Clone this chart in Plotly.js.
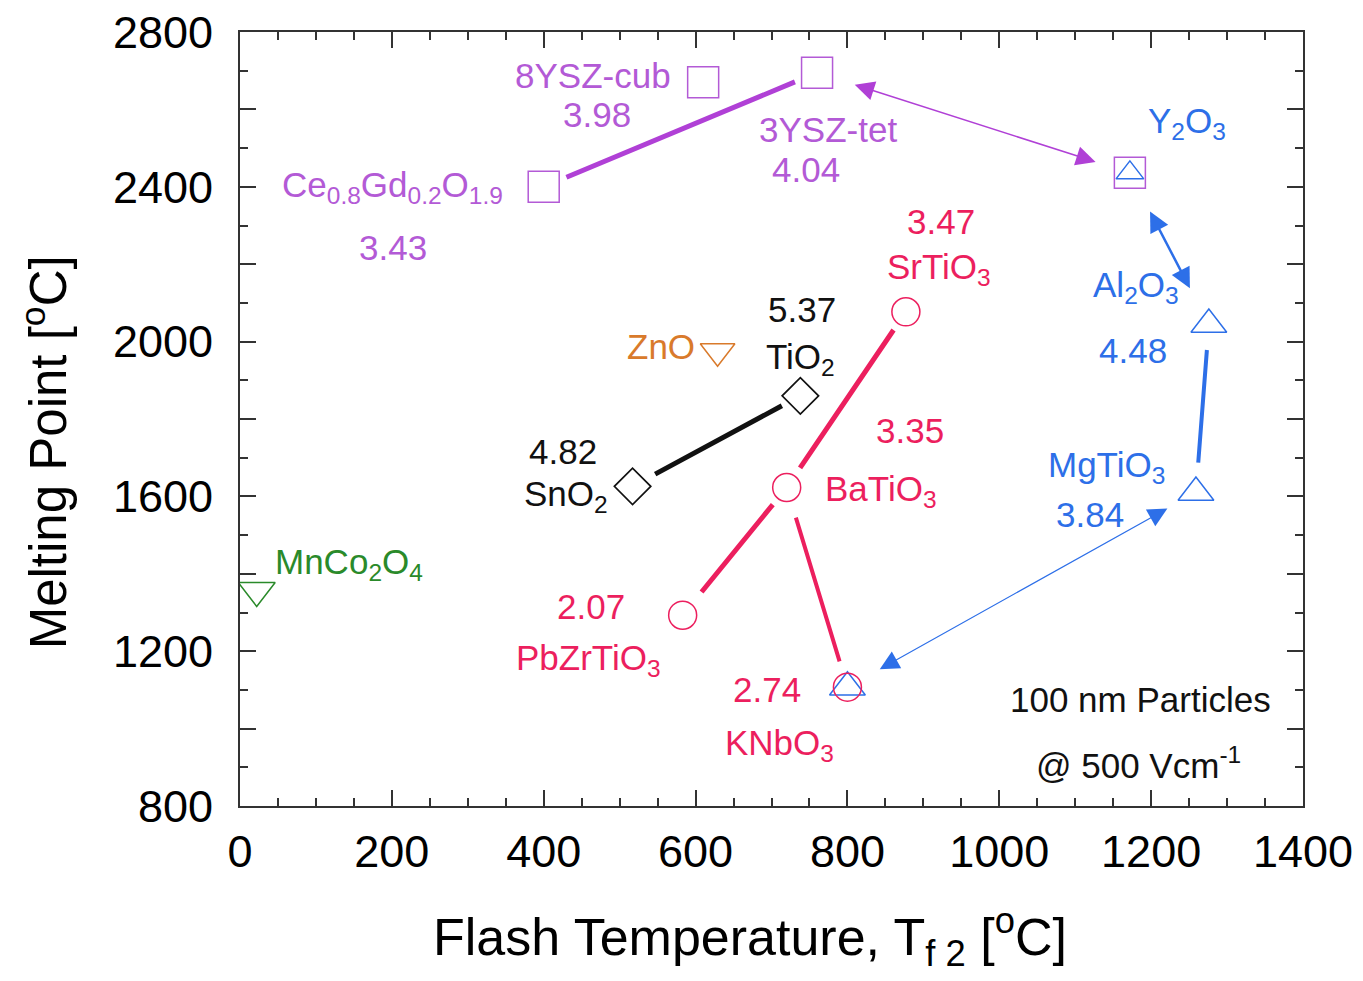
<!DOCTYPE html>
<html><head><meta charset="utf-8">
<script src="https://cdn.plot.ly/plotly-3.0.1.min.js"></script>
<style>html,body{margin:0;padding:0;background:#fff}#chart{width:1363px;height:981px}</style>
</head><body><div id="chart"></div>
<script>
// ---- data ----
const materials    = ['Ce0.8Gd0.2O1.9','8YSZ-cub','3YSZ-tet','Y2O3','Al2O3','MgTiO3','SrTiO3','BaTiO3','PbZrTiO3','KNbO3','TiO2','SnO2','ZnO','MnCo2O4'];
const flashTemp    = [400, 610, 760, 1172, 1276, 1259, 877, 720, 583, 800, 738, 517, 629, 22];
const meltingPoint = [2400, 2670, 2695, 2436, 2044, 1610, 2077, 1623, 1293, 1107, 1860, 1626, 1975, 1357];
const valueLabels  = ['3.43','3.98','4.04','','4.48','3.84','3.47','3.35','2.07','2.74','5.37','4.82','',''];
const xTickVals = [0,200,400,600,800,1000,1200,1400];
const yTickVals = [800,1000,1200,1400,1600,1800,2000,2200,2400,2600,2800];
const yTickText = ['800','','1200','','1600','','2000','','2400','','2800'];

// groups of markers
const squareGroup   = ['Ce0.8Gd0.2O1.9','8YSZ-cub','3YSZ-tet','Y2O3'];
const triangleGroup = ['Al2O3','MgTiO3','KNbO3'];
const circleGroup   = ['SrTiO3','BaTiO3','PbZrTiO3','KNbO3'];
const diamondGroup  = ['TiO2','SnO2'];

// connections
const tieLines = [['Ce0.8Gd0.2O1.9','3YSZ-tet'],['SnO2','TiO2'],['PbZrTiO3','BaTiO3'],['BaTiO3','SrTiO3'],['BaTiO3','KNbO3'],['Al2O3','MgTiO3']];
const arrowLinks = [['3YSZ-tet','Y2O3'],['Y2O3','Al2O3'],['MgTiO3','KNbO3']];

// ---- styles ----
const PURPLE='#b35ad6', PURPLE_LINE='#b040d6', RED='#ec1f5e', BLUE='#2d6fe8', ORANGE='#d97a2b', GREEN='#2a8a2a', BLACK='#111';
const FONT='Liberation Sans, Arial, sans-serif';

const idx = n => materials.indexOf(n);
const px = n => flashTemp[idx(n)];
const py = n => meltingPoint[idx(n)];

function markerTrace(group, symbol, size, color, lw){
  return {x: group.map(px), y: group.map(py), mode:'markers', type:'scatter', hoverinfo:'skip',
    marker:{symbol:symbol, size:size, color:'rgba(0,0,0,0)', line:{color:color, width:lw}}};
}
const traces = [
  markerTrace(squareGroup,'square',31,PURPLE,1.5),
  markerTrace(['Y2O3'],'triangle-up',24,BLUE,1.5),
  markerTrace(triangleGroup,'triangle-up',31,BLUE,1.5),
  markerTrace(circleGroup,'circle',28,RED,1.5),
  markerTrace(diamondGroup,'diamond',28,BLACK,1.7),
  markerTrace(['ZnO'],'triangle-down',30,ORANGE,1.5),
  markerTrace(['MnCo2O4'],'triangle-down',32,GREEN,1.5)
];

const lineStyles = [
  {color:PURPLE_LINE,w:5,s0:23,s1:24},
  {color:BLACK,w:5,s0:24,s1:21},
  {color:RED,w:5,s0:28,s1:22},
  {color:RED,w:5,s0:22,s1:22},
  {color:RED,w:4,s0:30,s1:27},
  {color:BLUE,w:4,s0:24,s1:30}
];
const annotations = [];
tieLines.forEach((l,i)=>{
  const st=lineStyles[i];
  annotations.push({x:px(l[1]),y:py(l[1]),ax:px(l[0]),ay:py(l[0]),xref:'x',yref:'y',axref:'x',ayref:'y',
    text:'',showarrow:true,arrowhead:0,startarrowhead:0,arrowside:'end+start',arrowwidth:st.w,arrowcolor:st.color,
    standoff:st.s1,startstandoff:st.s0});
});
const arrowStyles = [
  {color:PURPLE_LINE,w:1.5,size:2.6,s0:38,s1:36},
  {color:BLUE,w:2.5,size:1.6,s0:42,s1:41},
  {color:BLUE,w:1.2,size:3.2,s0:31,s1:37}
];
arrowLinks.forEach((l,i)=>{
  const st=arrowStyles[i];
  annotations.push({x:px(l[1]),y:py(l[1]),ax:px(l[0]),ay:py(l[0]),xref:'x',yref:'y',axref:'x',ayref:'y',
    text:'',showarrow:true,arrowhead:2,startarrowhead:2,arrowside:'end+start',arrowwidth:st.w,
    arrowsize:st.size,startarrowsize:st.size,arrowcolor:st.color,standoff:st.s1,startstandoff:st.s0});
});

// text labels
const nameText = {
  'Ce0.8Gd0.2O1.9':'Ce<sub>0.8</sub>Gd<sub>0.2</sub>O<sub>1.9</sub>','8YSZ-cub':'8YSZ-cub','3YSZ-tet':'3YSZ-tet',
  'Y2O3':'Y<sub>2</sub>O<sub>3</sub>','Al2O3':'Al<sub>2</sub>O<sub>3</sub>','MgTiO3':'MgTiO<sub>3</sub>',
  'SrTiO3':'SrTiO<sub>3</sub>','BaTiO3':'BaTiO<sub>3</sub>','PbZrTiO3':'PbZrTiO<sub>3</sub>','KNbO3':'KNbO<sub>3</sub>',
  'TiO2':'TiO<sub>2</sub>','SnO2':'SnO<sub>2</sub>','ZnO':'ZnO','MnCo2O4':'MnCo<sub>2</sub>O<sub>4</sub>'
};
// [material, colour, xshift, yshift]
const nameLayout = [
  ['Ce0.8Gd0.2O1.9',PURPLE,-151,0],['8YSZ-cub',PURPLE,-110,7],['3YSZ-tet',PURPLE,11,-57],
  ['Y2O3',BLUE,57,50],['Al2O3',BLUE,-73,38],['MgTiO3',BLUE,-89,26],
  ['SrTiO3',RED,33,43],['BaTiO3',RED,94,-3],['PbZrTiO3',RED,-94,-45],['KNbO3',RED,-68,-58],
  ['TiO2',BLACK,0,37],['SnO2',BLACK,-67,-10],['ZnO',ORANGE,-57,5],['MnCo2O4',GREEN,92,26]
];
const valueLayout = {
  'Ce0.8Gd0.2O1.9':[PURPLE,-151,-61],'8YSZ-cub':[PURPLE,-106,-32],'3YSZ-tet':[PURPLE,-11,-97],
  'Al2O3':[BLUE,-76,-26],'MgTiO3':[BLUE,-106,-22],'SrTiO3':[RED,35,90],'BaTiO3':[RED,123,57],
  'PbZrTiO3':[RED,-92,9],'KNbO3':[RED,-80,-2],'TiO2':[BLACK,2,86],'SnO2':[BLACK,-70,35]
};
nameLayout.forEach(n=>{
  annotations.push({x:px(n[0]),y:py(n[0]),xref:'x',yref:'y',text:nameText[n[0]],showarrow:false,
    xshift:n[2],yshift:n[3],font:{family:FONT,size:35,color:n[1]}});
});
materials.forEach((m,i)=>{
  if(!valueLabels[i]) return;
  const v=valueLayout[m];
  annotations.push({x:flashTemp[i],y:meltingPoint[i],xref:'x',yref:'y',text:valueLabels[i],showarrow:false,
    xshift:v[1],yshift:v[2],font:{family:FONT,size:35,color:v[0]}});
});
annotations.push({xref:'paper',yref:'paper',x:0.847,y:0.137,xanchor:'center',yanchor:'middle',text:'100 nm Particles',showarrow:false,
  font:{family:FONT,size:35,color:BLACK}});
annotations.push({xref:'paper',yref:'paper',x:0.845,y:0.055,xanchor:'center',yanchor:'middle',text:'@ 500 Vcm<sup>-1</sup>',showarrow:false,
  font:{family:FONT,size:35,color:BLACK}});
// axis titles
annotations.push({xref:'paper',yref:'paper',x:0.48,y:-0.169,xanchor:'center',yanchor:'middle',showarrow:false,
  text:'Flash Temperature, T<sub>f 2</sub> [<sup>o</sup>C]',font:{family:FONT,size:52,color:'#000'}});
annotations.push({xref:'paper',yref:'paper',x:-0.1834,y:0.457,xanchor:'center',yanchor:'middle',showarrow:false,textangle:-90,
  text:'Melting Point [<sup>o</sup>C]',font:{family:FONT,size:51,color:'#000'}});

const axisCommon = {showline:true,mirror:'allticks',linecolor:'#333',linewidth:2,ticks:'inside',ticklen:16,tickwidth:2,
  tickcolor:'#333',showgrid:false,zeroline:false,tickfont:{family:FONT,size:45,color:'#000'},
  minor:{ticks:'inside',ticklen:8,tickwidth:2,tickcolor:'#333',showgrid:false}};

const layout = {
  width:1363,height:981,paper_bgcolor:'#fff',plot_bgcolor:'#fff',showlegend:false,
  margin:{l:240,r:60,t:32,b:175},
  xaxis:Object.assign({},axisCommon,{range:[0,1400],tickvals:xTickVals,ticklabelstandoff:5,
    minor:Object.assign({},axisCommon.minor,{dtick:50})}),
  yaxis:Object.assign({},axisCommon,{range:[800,2800],tickvals:yTickVals,ticktext:yTickText,ticklabelstandoff:16,
    minor:Object.assign({},axisCommon.minor,{dtick:100})}),
  annotations:annotations
};
Plotly.newPlot('chart',traces,layout,{displayModeBar:false,staticPlot:true});
</script></body></html>
